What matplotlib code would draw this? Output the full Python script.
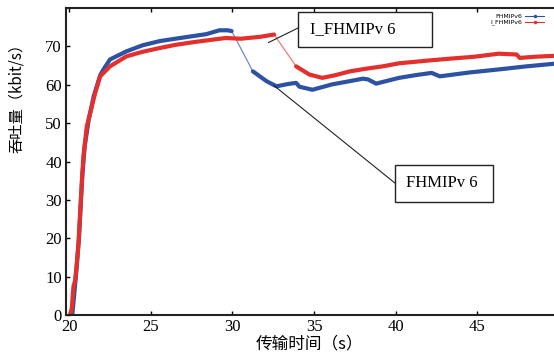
import matplotlib.pyplot as plt
from matplotlib.lines import Line2D
from matplotlib.patches import Rectangle

# --- data ---
# FHMIPv6 (blue): samples before and after the handover gap
t_fh_a = [20.2, 20.3, 20.45, 20.6, 20.7, 20.8, 20.95, 21.2, 21.5, 21.9, 22.1,
          22.5, 23.5, 24.5, 25.56, 26.5, 27.6, 28.4, 29.2, 29.7, 29.95]
thr_fh_a = [0.5, 5, 12, 20, 28, 36, 44, 51, 57, 62.5, 64,
            66.6, 68.7, 70.3, 71.4, 72.0, 72.7, 73.2, 74.2, 74.2, 74.0]
t_fh_b = [31.25, 32.1, 32.7, 33.4, 33.9, 34.1, 34.9, 36.1, 37.0, 38.0, 38.3,
          38.8, 40.2, 41.2, 42.2, 42.7, 44.5, 46.3, 48.0, 50.0]
thr_fh_b = [63.5, 60.9, 59.6, 60.2, 60.5, 59.5, 58.7, 60.1, 60.8, 61.6, 61.4,
            60.3, 61.8, 62.5, 63.1, 62.2, 63.2, 64.0, 64.8, 65.6]

# I_FHMIPv6 (red)
t_ifh_a = [20.06, 20.16, 20.26, 20.37, 20.47, 20.57, 20.67, 20.77, 20.87, 21.08,
           21.39, 21.6, 21.9, 22.5, 23.5, 24.5, 25.56, 26.5, 27.6, 28.5, 29.6,
           30.5, 31.7, 32.55]
thr_ifh_a = [0, 1.8, 7.4, 9.1, 13.6, 18.8, 26.6, 34.4, 41.3, 49.2,
             54.4, 58, 62.2, 64.8, 67.4, 68.6, 69.6, 70.4, 71.1, 71.6, 72.2,
             72.0, 72.5, 73.1]
t_ifh_b = [33.9, 34.7, 35.5, 36.3, 37.2, 38.2, 39.2, 40.2, 41.2, 42.2, 43.3,
           44.8, 46.3, 47.4, 47.6, 48.5, 50.0]
thr_ifh_b = [64.8, 62.7, 61.8, 62.5, 63.5, 64.2, 64.8, 65.6, 66.0, 66.4, 66.8,
             67.3, 68.1, 67.9, 67.0, 67.3, 67.6]

x_ticks = [20, 25, 30, 35, 40, 45]
y_ticks = [0, 10, 20, 30, 40, 50, 60, 70]

BLUE = '#2c52a3'
RED = '#e4302c'

plt.rcParams['font.family'] = ['Liberation Serif', 'Noto Sans CJK SC']
fig = plt.figure(figsize=(5.54, 3.59), dpi=100)
ax = fig.add_axes([0.119, 0.1226, 0.89, 0.855])

# thin line across the gap, thick bands where samples exist
ax.plot(t_fh_a[-1:] + t_fh_b[:1], thr_fh_a[-1:] + thr_fh_b[:1], color='#6f8cc4', lw=0.9)
ax.plot(t_ifh_a[-1:] + t_ifh_b[:1], thr_ifh_a[-1:] + thr_ifh_b[:1], color='#ee7a76', lw=0.9)
for t, v in [(t_fh_a, thr_fh_a), (t_fh_b, thr_fh_b)]:
    ax.plot(t, v, color=BLUE, lw=3.0, solid_capstyle='round')
for t, v in [(t_ifh_a, thr_ifh_a), (t_ifh_b, thr_ifh_b)]:
    ax.plot(t, v, color=RED, lw=3.0, solid_capstyle='round')

ax.set_xlim(19.8, 50)
ax.set_ylim(0, 80)
ax.set_xticks(x_ticks)
ax.set_yticks(y_ticks)
ax.tick_params(direction='in', length=3, width=1, top=True, right=True,
               labelsize=12, pad=3)
for s in ax.spines.values():
    s.set_linewidth(1.5)
    s.set_color('#222222')

ax.set_xlabel('传输时间（s）', family=['Noto Sans CJK SC'], fontsize=12)
ax.xaxis.set_label_coords(0.493, -0.068)
ax.set_ylabel('吞吐量（kbit/s）', family=['Noto Sans CJK SC'], fontsize=11)
ax.yaxis.set_label_coords(-0.083, 0.72)

handles = [Line2D([], [], color=BLUE, lw=0.8, marker='.', markersize=3),
           Line2D([], [], color=RED, lw=0.8, marker='.', markersize=3)]
fig.legend(handles, ['FHMIPv6', 'I_FHMIPv6'], loc='upper right',
           bbox_to_anchor=(0.99, 0.975), frameon=False,
           markerfirst=False, handlelength=3, labelspacing=0.1, borderpad=0.2,
           handletextpad=0.5, prop={'family': 'DejaVu Sans', 'size': 4.5})

# annotation boxes
fig.patches.append(Rectangle((0.538, 0.869), 0.242, 0.0975, transform=fig.transFigure,
                             fill=True, facecolor='white', edgecolor='#222222', lw=1))
fig.text(0.5596, 0.918, 'I_FHMIPv 6', fontsize=12, va='center', ha='left')
ax.annotate('', xy=(32.2, 71.0), xycoords='data', xytext=(0.538, 0.922),
            textcoords='figure fraction',
            arrowprops=dict(arrowstyle='-', lw=0.8, color='#222222', shrinkA=0, shrinkB=0))

fig.patches.append(Rectangle((0.713, 0.437), 0.177, 0.103, transform=fig.transFigure,
                             fill=True, facecolor='white', edgecolor='#222222', lw=1))
fig.text(0.733, 0.49, 'FHMIPv 6', fontsize=12, va='center', ha='left')
ax.annotate('', xy=(32.54, 59.8), xycoords='data', xytext=(0.713, 0.49),
            textcoords='figure fraction',
            arrowprops=dict(arrowstyle='-', lw=0.8, color='#222222', shrinkA=0, shrinkB=0))

fig.savefig('out.png', dpi=100)
